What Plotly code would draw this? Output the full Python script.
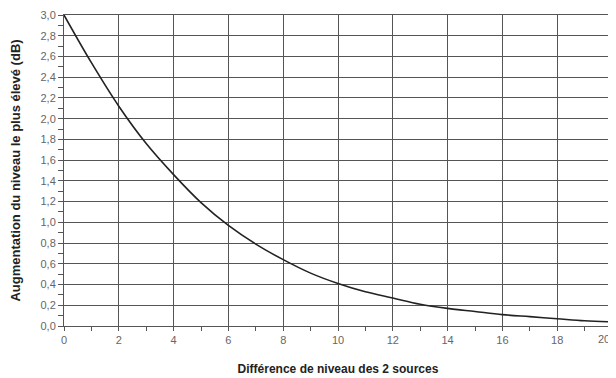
import plotly.graph_objects as go

ecart_db = [0, 1, 2, 3, 4, 5, 6, 7, 8, 9, 10, 11, 12, 13, 14, 15, 16, 17, 18, 19, 20]
augmentation_db = [3.0, 2.54, 2.12, 1.76, 1.46, 1.19, 0.97, 0.79, 0.64, 0.51, 0.41,
                   0.33, 0.27, 0.21, 0.17, 0.14, 0.11, 0.09, 0.07, 0.05, 0.04]
x_ticks = [0, 2, 4, 6, 8, 10, 12, 14, 16, 18, 20]
y_ticks = [round(0.2 * i, 1) for i in range(16)]

fig = go.Figure()
fig.add_trace(go.Scatter(x=ecart_db, y=augmentation_db, mode="lines",
                         line=dict(color="#222222", width=1.6, shape="spline"),
                         showlegend=False, hoverinfo="skip", cliponaxis=False))

font = "Liberation Sans, Arial, sans-serif"
fig.update_layout(
    width=608, height=370,
    margin=dict(l=56, r=4, t=7, b=52),
    paper_bgcolor="white", plot_bgcolor="white",
    separators=", ",
    font=dict(family=font, size=11, color="#666666"),
    xaxis=dict(range=[0, 20], tickvals=x_ticks, showgrid=True, gridcolor="#555555",
               gridwidth=1, showline=True, linecolor="#555555", linewidth=1, mirror=True,
               ticks="outside", ticklen=4, tickcolor="#555555", automargin=False,
               minor=dict(dtick=1, ticks="outside", ticklen=4, tickcolor="#555555", showgrid=False),
               zeroline=False,
               title=dict(text="<b>Différence de niveau des 2 sources</b>", standoff=19,
                          font=dict(family=font, size=12, color="#222222"))),
    yaxis=dict(range=[0, 3.0], tickvals=y_ticks, tickformat=".1f", showgrid=True,
               gridcolor="#555555", gridwidth=1, showline=True, linecolor="#555555",
               linewidth=1, mirror=True, ticks="outside", ticklen=5, tickcolor="#555555",
               automargin=False,
               minor=dict(dtick=0.1, ticks="outside", ticklen=5, tickcolor="#555555", showgrid=False),
               zeroline=False,
               title=dict(text="<b>Augmentation du niveau le plus élevé (dB)</b>", standoff=23,
                          font=dict(family=font, size=13, color="#222222"))),
)
# last x tick label (plotly hides it because it overflows the edge); kept fully visible
fig.add_annotation(x=x_ticks[-1], xref="x", y=0, yref="paper", yanchor="top",
                   xanchor="right", yshift=-5,
                   text=str(x_ticks[-1]), showarrow=False,
                   font=dict(family=font, size=11, color="#666666"))
fig.write_html("out.html")
